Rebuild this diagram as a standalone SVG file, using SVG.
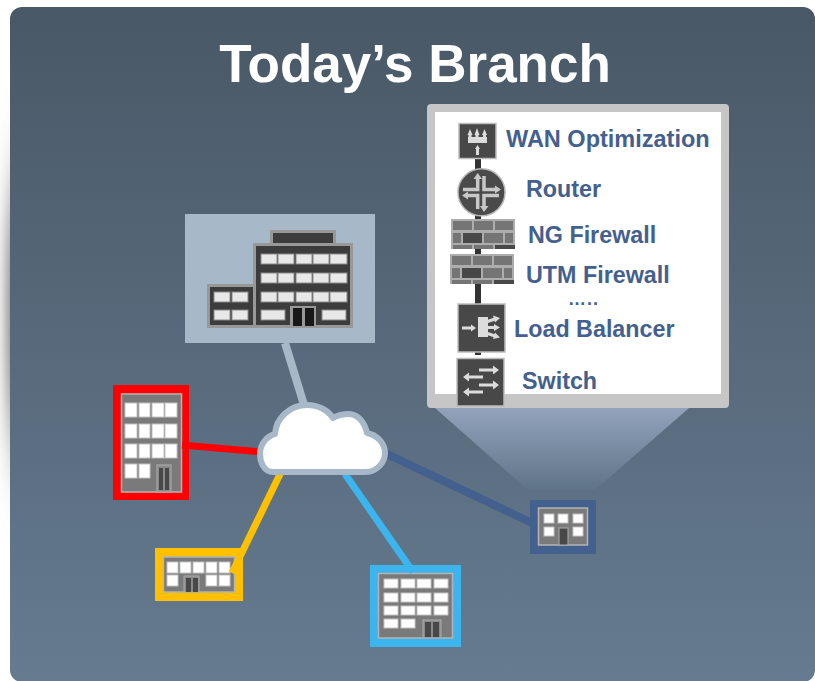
<svg xmlns="http://www.w3.org/2000/svg" width="815" height="681" viewBox="0 0 815 681">
<style>
.t{font-family:"Liberation Sans",Arial,sans-serif;font-weight:700;fill:#43608e;font-size:23.300px}
.dk{fill:#484848;stroke:#bdbdbd;stroke-width:1.500}
.w{fill:#e8e8e8;stroke:#8a8a8a;stroke-width:1}
.wg{fill:#fff;stroke:#c4c4c4;stroke-width:1}
.bg{fill:#7a7a7a;stroke:#b4b4b4;stroke-width:1.500}
.ic{fill:none;stroke:#dcdcdc;stroke-width:3}
.icf{fill:#dcdcdc}
.rt{fill:none;stroke:#c8c8c8;stroke-width:3.500}
.rtf{fill:#c8c8c8}
</style>
<defs>
<linearGradient id="bg" x1="0" y1="0" x2="0" y2="1"><stop offset="0" stop-color="#495866"/><stop offset="1" stop-color="#667b90"/></linearGradient>
<linearGradient id="beam" x1="0" y1="0" x2="0" y2="1"><stop offset="0" stop-color="#92a3bb"/><stop offset="1" stop-color="#5f7388"/></linearGradient>
<filter id="soft" filterUnits="userSpaceOnUse" x="-40" y="0" width="100" height="681"><feGaussianBlur stdDeviation="7 50"/></filter>
<g id="wall">
<rect width="64" height="30" fill="#adadad"/>
<rect x="2" y="2" width="19" height="9" fill="#757575"/><rect x="23" y="2" width="19" height="9" fill="#757575"/><rect x="44" y="2" width="18" height="9" fill="#757575"/>
<rect x="2" y="14" width="8" height="10" fill="#757575"/><rect x="12" y="14" width="19" height="10" fill="#484848"/><rect x="33" y="14" width="19" height="10" fill="#757575"/><rect x="54" y="14" width="8" height="10" fill="#757575"/>
<rect x="2" y="26" width="19" height="4" fill="#757575"/><rect x="23" y="26" width="19" height="4" fill="#757575"/><rect x="44" y="26" width="20" height="4" fill="#484848"/>
</g>
</defs>
<rect x="0" y="0" width="815" height="681" fill="#fff"/>
<rect x="6" y="200" width="24" height="230" fill="#808080" filter="url(#soft)"/>
<rect x="10" y="7" width="805" height="675" rx="12" fill="url(#bg)"/>
<text x="415" y="82" text-anchor="middle" font-family="'Liberation Sans',Arial,sans-serif" font-weight="700" font-size="53" fill="#fff">Today’s Branch</text>

<polygon points="435,408 689,408 595,490 528,490" fill="url(#beam)"/>

<g id="hq">
<rect x="185" y="214" width="190" height="129" fill="#a7b9c8"/>
<rect x="271.500" y="231.500" width="63" height="13" fill="#3c3c3c" stroke="#989898" stroke-width="3"/>
<rect x="254.500" y="244.500" width="97" height="82" fill="#3c3c3c" stroke="#989898" stroke-width="3"/>
<rect x="208.500" y="285.500" width="46" height="41" fill="#3c3c3c" stroke="#989898" stroke-width="3"/>
<g class="w">
<rect x="261" y="254" width="16" height="10"/><rect x="278" y="254" width="16" height="10"/><rect x="296" y="254" width="16" height="10"/><rect x="313" y="254" width="16" height="10"/><rect x="330" y="254" width="17" height="10"/>
<rect x="261" y="273" width="16" height="10"/><rect x="278" y="273" width="16" height="10"/><rect x="296" y="273" width="16" height="10"/><rect x="313" y="273" width="16" height="10"/><rect x="330" y="273" width="17" height="10"/>
<rect x="261" y="292" width="16" height="10"/><rect x="278" y="292" width="16" height="10"/><rect x="296" y="292" width="16" height="10"/><rect x="313" y="292" width="16" height="10"/><rect x="330" y="292" width="17" height="10"/>
<rect x="261" y="310" width="24" height="10"/><rect x="322" y="310" width="24" height="10"/>
<rect x="214" y="292" width="16" height="10"/><rect x="232" y="292" width="16" height="10"/>
<rect x="214" y="310" width="16" height="10"/><rect x="232" y="310" width="16" height="10"/>
</g>
<rect x="290" y="306" width="26" height="20" fill="#989898"/>
<rect x="293" y="308" width="9" height="18" fill="#181818"/><rect x="305" y="308" width="9" height="18" fill="#181818"/>
</g>

<g id="red-branch">
<rect x="113" y="385" width="76" height="115" fill="#f00"/>
<rect x="121.500" y="394" width="60" height="98" class="bg"/>
<g class="wg">
<rect x="125" y="403" width="12" height="14"/><rect x="139" y="403" width="11" height="14"/><rect x="152" y="403" width="12" height="14"/><rect x="165" y="403" width="12" height="14"/>
<rect x="125" y="424" width="12" height="14"/><rect x="139" y="424" width="11" height="14"/><rect x="152" y="424" width="12" height="14"/><rect x="165" y="424" width="12" height="14"/>
<rect x="125" y="444" width="12" height="14"/><rect x="139" y="444" width="11" height="14"/><rect x="152" y="444" width="12" height="14"/><rect x="165" y="444" width="12" height="14"/>
<rect x="125" y="464" width="12" height="14"/><rect x="139" y="464" width="11" height="14"/>
</g>
<rect x="157" y="465" width="14" height="27" fill="#8a8a8a" stroke="#aeaeae"/>
<rect x="159" y="468" width="4" height="22" fill="#484848"/><rect x="165" y="468" width="4" height="22" fill="#484848"/>
</g>

<g id="yellow-branch">
<rect x="155" y="548" width="88" height="53" fill="#ffc000"/>
<rect x="163.500" y="557" width="71" height="35" class="bg"/>
<g class="wg">
<rect x="167" y="562" width="11" height="11"/><rect x="180" y="562" width="11" height="11"/><rect x="193" y="562" width="11" height="11"/><rect x="206" y="562" width="11" height="11"/><rect x="219" y="562" width="11" height="11"/>
<rect x="167" y="575" width="11" height="11"/><rect x="206" y="575" width="11" height="11"/><rect x="219" y="575" width="11" height="11"/>
</g>
<rect x="184" y="576" width="15" height="16" fill="#8a8a8a" stroke="#aeaeae"/>
<rect x="186" y="578" width="5" height="14" fill="#484848"/><rect x="193" y="578" width="5" height="14" fill="#484848"/>
</g>

<g id="blue-branch">
<rect x="370" y="565" width="91" height="82" fill="#3cb5ee"/>
<rect x="378.500" y="573.500" width="74" height="64.500" class="bg"/>
<g class="wg">
<rect x="384" y="579" width="14" height="9"/><rect x="401" y="579" width="14" height="9"/><rect x="417" y="579" width="14" height="9"/><rect x="434" y="579" width="14" height="9"/>
<rect x="384" y="593" width="14" height="9"/><rect x="401" y="593" width="14" height="9"/><rect x="417" y="593" width="14" height="9"/><rect x="434" y="593" width="14" height="9"/>
<rect x="384" y="606" width="14" height="9"/><rect x="401" y="606" width="14" height="9"/><rect x="417" y="606" width="14" height="9"/><rect x="434" y="606" width="14" height="9"/>
<rect x="384" y="619" width="14" height="9"/><rect x="401" y="619" width="14" height="9"/>
</g>
<rect x="423" y="620" width="18" height="18" fill="#8a8a8a" stroke="#aeaeae"/>
<rect x="425" y="622" width="6" height="15" fill="#484848"/><rect x="433" y="622" width="6" height="15" fill="#484848"/>
</g>

<g id="navy-branch">
<rect x="530" y="500" width="66" height="54" fill="#43608e"/>
<rect x="538.500" y="508" width="49" height="37" class="bg"/>
<g class="wg">
<rect x="544" y="514" width="10" height="9"/><rect x="558" y="514" width="10" height="9"/><rect x="573" y="514" width="10" height="9"/>
<rect x="544" y="527" width="10" height="9"/><rect x="573" y="527" width="10" height="9"/>
</g>
<rect x="559" y="528" width="9" height="17" fill="#484848" stroke="#aeaeae"/>
</g>

<g id="connectors" fill="none" stroke-width="7">
<path d="M285,343 L305,408" stroke="#a7b9c8" stroke-width="8"/>
<path d="M182,445 L262,452" stroke="#f00"/>
<path d="M232,573 L282,470" stroke="#ffc000"/>
<path d="M345,474 L413,572" stroke="#3cb5ee"/>
<path d="M384,452.700 L532,523" stroke="#43608e" stroke-width="8"/>
</g>

<g id="cloud">
<path d="M273,472 C264,472 260,462 260,454 C260,444 267,436 275,434 C276,418 290,405 307,405 C318,405 328,410 333,418 C338,415 344,414 349,414 C358,414 365,423 367,433 C377,435 385,443 385,453 C385,463 376,472 366,472 Z" fill="#fff" stroke="#a7b9c8" stroke-width="6" stroke-linejoin="round"/>
</g>

<g id="panel">
<rect x="427" y="104" width="302" height="304" rx="4" fill="#c6c6c6"/>
<rect x="435" y="112" width="286" height="282" fill="#fff"/>
<rect x="475" y="155" width="6" height="200" fill="#333"/>
</g>

<g id="wan-optimization">
<rect x="459" y="123.500" width="37" height="35" class="dk"/>
<path d="M470,134 V143 M477,134 V143 M484.500,134 V143" class="ic" stroke-width="2"/>
<path d="M467.500,135 L470,129 L472.500,135 Z M474.500,135 L477,128 L479.500,135 Z M482,135 L484.500,129 L487,135 Z" class="icf"/>
<rect x="468" y="137" width="19" height="6" class="icf"/>
<path d="M477.500,155 V148" class="ic" stroke-width="1.500"/>
<path d="M475,149 L477.500,145 L480,149 Z" class="icf"/>
<text class="t" x="506" y="147" style="font-size:23.500px">WAN Optimization</text>
</g>
<g id="router">
<circle cx="481.500" cy="192.300" r="23.500" fill="#4a4a4a" stroke="#b5b5b5" stroke-width="1.500"/>
<path d="M477.700,178 V189.500 H463 M484,176 V189.500 H496 M477.700,209 V195.500 H466 M484,207 V195.500 H499" class="rt"/>
<path d="M473.500,179 L477.700,173 L482,179 Z M480,206 L484,212 L488.500,206 Z M495,185.500 L501,189.500 L495,193.500 Z M468,191.500 L462,195.500 L468,199.500 Z" class="rtf"/>
<text class="t" x="526" y="197">Router</text>
</g>
<g id="ng-firewall">
<use href="#wall" x="451" y="219"/>
<text class="t" x="528" y="243">NG Firewall</text>
</g>
<g id="utm-firewall">
<use href="#wall" x="450" y="254"/>
<text class="t" x="526" y="283">UTM Firewall</text>
</g>
<text class="t" x="568" y="305" style="font-size:18px;letter-spacing:1px">…..</text>
<g id="load-balancer">
<rect x="458" y="304" width="47" height="48" class="dk"/>
<path d="M462,328 H472" class="ic" stroke-width="2.500"/>
<path d="M471,324.500 L476,328 L471,331.500 Z" class="icf"/>
<rect x="478" y="317" width="10" height="20" class="icf"/>
<path d="M486,322 L495,319 M486,327.500 H495 M486,333 L495,336" class="ic" stroke-width="2.500"/>
<path d="M493,315.500 L500,318 L495,322.500 Z M494,324 L500,327.500 L494,331 Z M495,332.500 L500,337.500 L493,339 Z" class="icf"/>
<text class="t" x="514" y="337">Load Balancer</text>
</g>
<g id="switch">
<rect x="457" y="358.500" width="47" height="47.500" class="dk"/>
<path d="M479,370 H495 M467,377 H483 M479,385 H495 M467,392 H483" class="ic" stroke-width="3.500"/>
<path d="M493,365.500 L499,370 L493,374.500 Z M469,372.500 L463,377 L469,381.500 Z M493,380.500 L499,385 L493,389.500 Z M469,387.500 L463,392 L469,396.500 Z" class="icf"/>
<text class="t" x="522" y="389">Switch</text>
</g>
</svg>
